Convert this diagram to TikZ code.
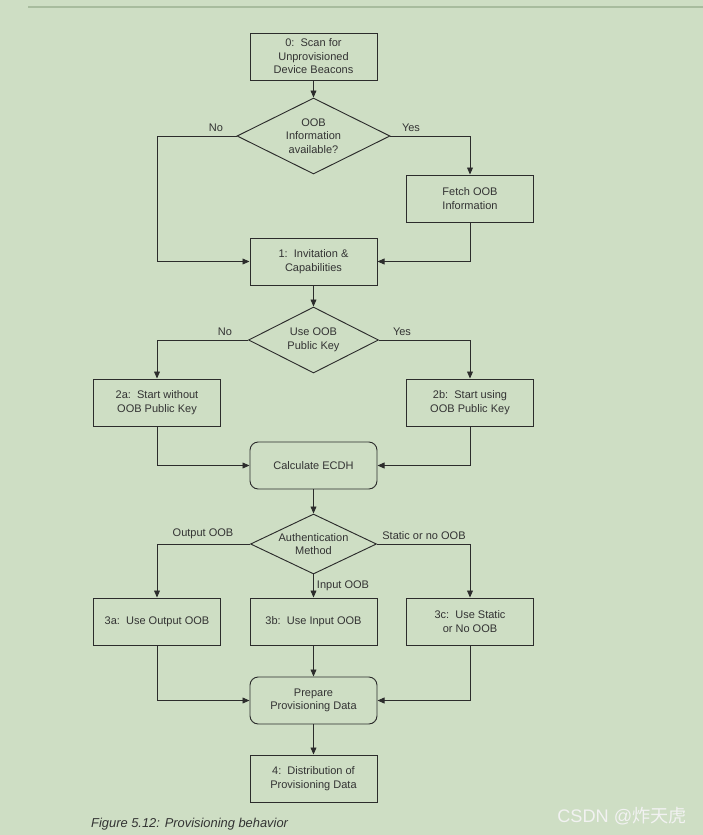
\documentclass[tikz,border=0pt]{standalone}
\usepackage{fontspec}
\setmainfont{Liberation Sans}
\newfontfamily\cjkfont{Noto Sans CJK SC}
\usetikzlibrary{arrows.meta,positioning,shapes.geometric}
\definecolor{pagebg}{HTML}{CEDEC4}
\definecolor{rulegreen}{HTML}{A8BC9E}
\definecolor{ink}{HTML}{2C2C2C}
\definecolor{txt}{HTML}{333333}

\begin{document}
\begin{tikzpicture}[
    x=0.03cm, y=-0.03cm,
    box/.style={draw=ink, line width=0.8pt, minimum width=3.81cm, minimum height=1.41cm, align=center, text=txt, font=\fontsize{9.4}{11.5}\selectfont, inner sep=1pt},
    roundbox/.style={box, rounded corners=7pt},
    choice/.style={draw=ink, line width=0.8pt, diamond, shape aspect=2, inner sep=0pt, align=center, text=txt, font=\fontsize{9.4}{11.5}\selectfont},
    wire/.style={draw=ink, line width=0.8pt, -{Triangle[length=6pt,width=5pt]}},
    lbl/.style={text=txt, font=\fontsize{9.4}{11}\selectfont, inner sep=0pt}
  ]
  \fill[pagebg] (0,0) rectangle (703,835);
  \useasboundingbox (0,0) rectangle (703,835);
  \draw[rulegreen, line width=1.5pt] (28,7) -- (703,7);

  % boxes
  \node[box] (scan) at (313.5,56.5) {0:\ \ Scan for\\Unprovisioned\\Device Beacons};
  \node[choice, minimum width=4.59cm, minimum height=2.28cm] (oobinfo) at (313.5,136) {OOB\\Information\\available?};
  \node[box] (fetch) at (470,198.5) {Fetch OOB\\Information};
  \node[box] (invite) at (313.5,261.5) {1:\ \ Invitation \&\\Capabilities};
  \node[choice, minimum width=3.9cm, minimum height=1.98cm] (usekey) at (313.5,340) {Use OOB\\Public Key};
  \node[box] (startno) at (157,402.5) {2a:\ \ Start without\\OOB Public Key};
  \node[box] (startyes) at (470,402.5) {2b:\ \ Start using\\OOB Public Key};
  \node[roundbox] (ecdh) at (313.5,465.5) {Calculate ECDH};
  \node[choice, minimum width=3.78cm, minimum height=1.8cm] (auth) at (313.5,544) {Authentication\\Method};
  \node[box] (outoob) at (157,621.5) {3a:\ \ Use Output OOB};
  \node[box] (inoob) at (313.5,621.5) {3b:\ \ Use Input OOB};
  \node[box] (statoob) at (470,621.5) {3c:\ \ Use Static\\or No OOB};
  \node[roundbox] (prep) at (313.5,700.5) {Prepare\\Provisioning Data};
  \node[box] (dist) at (313.5,778.5) {4:\ \ Distribution of\\Provisioning Data};

  % wires
  \coordinate (noturn) at (157,136);
  \draw[wire] (scan) -- (oobinfo);
  \draw[wire] (oobinfo.west) -- (noturn) |- (invite.west);
  \draw[wire] (oobinfo.east) -| (fetch.north);
  \draw[wire] (fetch.south) |- (invite.east);
  \draw[wire] (invite) -- (usekey);
  \draw[wire] (usekey.west) -| (startno.north);
  \draw[wire] (usekey.east) -| (startyes.north);
  \draw[wire] (startno.south) |- (ecdh.west);
  \draw[wire] (startyes.south) |- (ecdh.east);
  \draw[wire] (ecdh) -- (auth);
  \draw[wire] (auth.west) -| (outoob.north);
  \draw[wire] (auth.south) -- (inoob.north);
  \draw[wire] (auth.east) -| (statoob.north);
  \draw[wire] (outoob.south) |- (prep.west);
  \draw[wire] (inoob) -- (prep);
  \draw[wire] (statoob.south) |- (prep.east);
  \draw[wire] (prep) -- (dist);

  % labels
  \node[lbl] (no1) at (216,128) {No};
  \node[lbl] (yes1) at (411,128) {Yes};
  \node[lbl] (no2) at (225,332) {No};
  \node[lbl] (yes2) at (402,332) {Yes};
  \node[lbl] (outlbl) at (203,534) {Output OOB};
  \node[lbl] (statlbl) at (424,536) {Static or no OOB};
  \node[lbl] (inlbl) at (343,586) {Input OOB};

  \node[anchor=west, inner sep=0pt, text=txt, font=\fontsize{11}{12}\selectfont\itshape] (caption) at (91,824) {Figure 5.12: Provisioning behavior};
  \node[inner sep=0pt, text=white!90!gray, font=\fontsize{15.5}{17}\selectfont] (mark) at (622,816) {CSDN @{\cjkfont 炸天虎}};
\end{tikzpicture}
\end{document}
